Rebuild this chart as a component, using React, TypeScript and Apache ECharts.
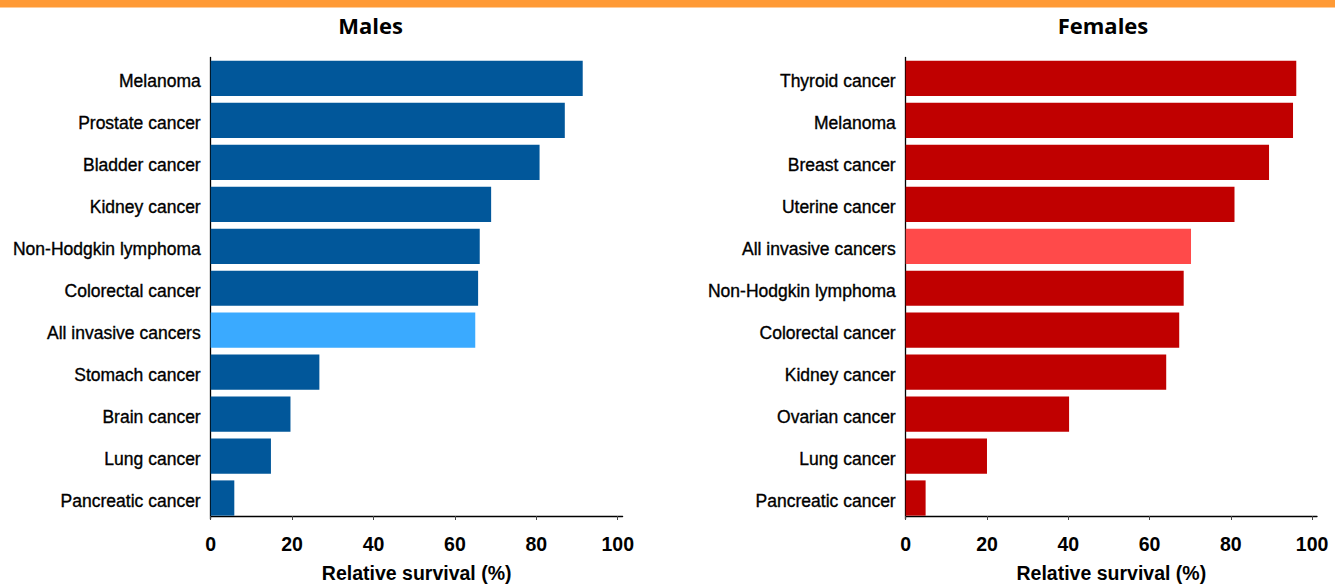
import React, { useEffect, useRef } from "react";
import * as echarts from "echarts";

const maleCategories = [
  "Melanoma",
  "Prostate cancer",
  "Bladder cancer",
  "Kidney cancer",
  "Non-Hodgkin lymphoma",
  "Colorectal cancer",
  "All invasive cancers",
  "Stomach cancer",
  "Brain cancer",
  "Lung cancer",
  "Pancreatic cancer",
];
const maleValues = [91.4, 87.0, 80.8, 68.9, 66.1, 65.7, 65.0, 26.7, 19.6, 14.8, 5.8];

const femaleCategories = [
  "Thyroid cancer",
  "Melanoma",
  "Breast cancer",
  "Uterine cancer",
  "All invasive cancers",
  "Non-Hodgkin lymphoma",
  "Colorectal cancer",
  "Kidney cancer",
  "Ovarian cancer",
  "Lung cancer",
  "Pancreatic cancer",
];
const femaleValues = [96.1, 95.3, 89.4, 80.9, 70.2, 68.4, 67.3, 64.1, 40.2, 20.0, 4.9];

const xTicks = [0, 20, 40, 60, 80, 100];
const highlightCategory = "All invasive cancers";
const axisTitle = "Relative survival (%)";

const MALE_DARK = "#01579A";
const MALE_LIGHT = "#3AAAFF";
const FEMALE_DARK = "#C00000";
const FEMALE_LIGHT = "#FF4A4A";

export default function App() {
  const ref = useRef<HTMLDivElement>(null);

  useEffect(() => {
    document.body.style.margin = "0";
    if (!ref.current) return;
    const chart = echarts.init(ref.current, null, { renderer: "svg" });

    const makeX = (gridIndex: number) => ({
      type: "value",
      gridIndex,
      min: 0,
      max: 101.2,
      offset: -3,
      splitLine: { show: false },
      axisLine: { show: true, lineStyle: { color: "#000", width: 1.3 } },
      axisTick: {
        show: true,
        length: 4,
        customValues: xTicks,
        lineStyle: { color: "#444", width: 1 },
      },
      axisLabel: {
        customValues: xTicks,
        margin: 18,
        color: "#000",
        fontFamily: "Liberation Sans",
        fontWeight: "bold",
        fontSize: 19.5,
      },
      name: axisTitle,
      nameLocation: "middle",
      nameGap: 47,
      nameTextStyle: {
        color: "#000",
        fontFamily: "Liberation Sans",
        fontWeight: "bold",
        fontSize: 19.5,
      },
    });

    const makeY = (gridIndex: number, cats: string[]) => ({
      type: "category",
      gridIndex,
      data: cats,
      inverse: true,
      axisLine: { show: true, lineStyle: { color: "#000", width: 1.3 } },
      axisTick: { show: false },
      axisLabel: {
        margin: 10,
        color: "#000",
        fontFamily: "Liberation Sans",
        fontSize: 17.5,
        verticalAlign: "top",
        lineHeight: 6,
        textBorderColor: "#000",
        textBorderWidth: 0.35,
      },
    });

    const makeData = (cats: string[], vals: number[], dark: string, light: string) =>
      vals.map((v, i) => ({
        value: v,
        itemStyle: { color: cats[i] === highlightCategory ? light : dark },
      }));

    chart.setOption({
      animation: false,
      backgroundColor: "#fff",
      grid: [
        { left: 210.7, top: 57.5, width: 411.9, height: 461.5, containLabel: false, outerBoundsMode: "none" },
        { left: 905.7, top: 57.5, width: 411.3, height: 461.5, containLabel: false, outerBoundsMode: "none" },
      ],
      xAxis: [makeX(0), makeX(1)],
      yAxis: [makeY(0, maleCategories), makeY(1, femaleCategories)],
      series: [
        {
          type: "bar",
          xAxisIndex: 0,
          yAxisIndex: 0,
          barCategoryGap: "16%",
          data: makeData(maleCategories, maleValues, MALE_DARK, MALE_LIGHT),
        },
        {
          type: "bar",
          xAxisIndex: 1,
          yAxisIndex: 1,
          barCategoryGap: "16%",
          data: makeData(femaleCategories, femaleValues, FEMALE_DARK, FEMALE_LIGHT),
        },
      ],
      graphic: [
        {
          type: "rect",
          shape: { x: 0, y: 0, width: 1335, height: 7.5 },
          style: { fill: "#FF9A35" },
        },
        {
          type: "text",
          x: 370.5,
          y: 25,
          style: {
            text: "Males",
            align: "center",
            verticalAlign: "middle",
            fill: "#000",
            font: "bold 22px 'Open Sans'",
          },
        },
        {
          type: "text",
          x: 1103,
          y: 25,
          style: {
            text: "Females",
            align: "center",
            verticalAlign: "middle",
            fill: "#000",
            font: "bold 22px 'Open Sans'",
          },
        },
      ],
    });

    return () => chart.dispose();
  }, []);

  return <div ref={ref} style={{ width: 1335, height: 585 }} />;
}
